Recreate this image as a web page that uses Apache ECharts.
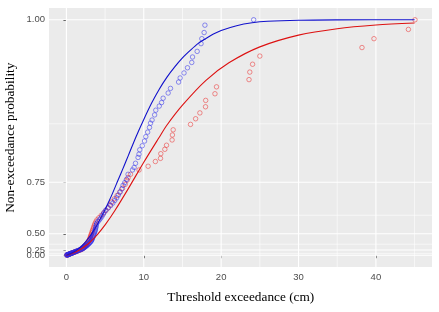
<!DOCTYPE html>
<html>
<head>
<meta charset="utf-8">
<script src="https://cdn.jsdelivr.net/npm/echarts@6/dist/echarts.min.js"></script>
<style>
html,body{margin:0;padding:0;background:#fff;}
#chart{width:439px;height:312px;}
</style>
</head>
<body>
<div id="chart"></div>
<script>
// ---- data (x = threshold exceedance in cm, p = non-exceedance probability) ----
const xTicks = [0, 10, 20, 30, 40];
const xMinorGrid = [5, 15, 25, 35, 45];
const yTicks = [0, 0.25, 0.5, 0.75, 1];
const yTickLabels = ['0.00', '0.25', '0.50', '0.75', '1.00'];
const yMinorGrid = [0.125, 0.375, 0.625, 0.875];

const bluePoints = [
[0.04,0.01],[0.08,0.02],[0.11,0.03],[0.16,0.04],[0.2,0.05],[0.25,0.06],[0.3,0.07],[0.35,0.08],[0.4,0.09],[0.46,0.1],
[0.51,0.11],[0.58,0.12],[0.64,0.13],[0.7,0.14],[0.78,0.15],[0.85,0.16],[0.92,0.17],[1.0,0.18],[1.09,0.19],[1.18,0.2],
[1.27,0.21],[1.36,0.22],[1.47,0.23],[1.57,0.24],[1.68,0.25],[1.8,0.26],[1.92,0.27],
[2.03,0.28],[2.12,0.29],[2.2,0.3],[2.28,0.31],[2.37,0.32],[2.45,0.33],[2.53,0.34],[2.62,0.35],[2.7,0.36],[2.78,0.37],
[2.87,0.38],[2.95,0.39],[3.03,0.4],[3.12,0.41],[3.2,0.42],
[3.25,0.43],[3.29,0.44],[3.34,0.45],[3.39,0.46],[3.43,0.47],[3.48,0.48],[3.53,0.49],[3.58,0.5],[3.62,0.51],[3.67,0.52],
[3.72,0.53],[3.76,0.54],[3.8,0.55],[3.84,0.56],[3.87,0.57],[3.92,0.58],
[4.08,0.59],[4.26,0.6],[4.44,0.61],[4.6,0.62],[4.75,0.63],[4.9,0.64],
[5.1,0.65],[5.4,0.66],[5.72,0.67],[6.0,0.68],
[6.25,0.69],[6.5,0.7],[6.72,0.71],[6.95,0.72],[7.15,0.73],
[7.32,0.741],[7.54,0.749],[7.76,0.758],[7.97,0.772],[8.54,0.783],[8.75,0.789],[8.93,0.799],[9.26,0.812],[9.38,0.819],
[9.48,0.828],[9.8,0.836],[10.1,0.845],[10.26,0.853],[10.5,0.861],[10.74,0.869],[10.87,0.876],[11.07,0.881],[11.4,0.889],
[11.55,0.896],[12.0,0.902],[12.3,0.907],[12.5,0.913],[13.15,0.92],[13.45,0.926],[14.5,0.934],[14.7,0.939],[15.2,0.945],
[15.65,0.951],[16.2,0.957],[16.3,0.963],[16.9,0.969],[17.4,0.977],[17.5,0.982],[17.8,0.988],[17.9,0.995],[24.2,1.0]
];

const redPoints = [
[0.05,0.012],[0.09,0.024],[0.14,0.036],[0.2,0.048],[0.25,0.06],[0.31,0.072],[0.38,0.084],[0.44,0.096],[0.52,0.108],
[0.59,0.12],[0.67,0.132],[0.75,0.144],[0.84,0.156],[0.93,0.168],[1.03,0.18],[1.14,0.192],[1.25,0.204],[1.36,0.216],
[1.48,0.228],[1.61,0.24],[1.75,0.252],[1.9,0.264],
[2.0,0.276],[2.07,0.288],[2.14,0.3],[2.21,0.312],[2.28,0.324],[2.35,0.336],[2.42,0.348],[2.5,0.36],[2.57,0.372],
[2.65,0.384],[2.72,0.396],[2.8,0.408],[2.87,0.42],[2.94,0.432],[3.0,0.444],
[3.05,0.456],[3.1,0.468],[3.15,0.48],[3.2,0.492],[3.26,0.504],[3.32,0.516],[3.38,0.528],[3.45,0.54],[3.52,0.552],
[3.6,0.564],[3.68,0.576],[3.8,0.588],[3.95,0.6],
[4.2,0.612],[4.5,0.624],[4.8,0.636],[5.1,0.648],[5.4,0.66],[5.65,0.672],
[5.85,0.684],[6.2,0.696],[6.55,0.708],[6.9,0.72],[7.25,0.732],[7.6,0.744],[7.85,0.756],
[7.97,0.763],[8.28,0.772],[9.39,0.783],[10.56,0.792],[11.5,0.803],[12.16,0.81],[12.2,0.82],[12.72,0.829],[12.94,0.837],
[13.66,0.847],[13.7,0.856],[13.8,0.865],[16.04,0.874],[16.7,0.883],[17.25,0.892],[17.98,0.901],[18.0,0.91],[19.2,0.919],
[19.4,0.928],[23.6,0.937],[23.7,0.946],[24.06,0.955],[25.0,0.964],[38.2,0.973],[39.75,0.982],[44.2,0.991],[45.05,1.0]
];

const blueCurveX = [0,0.5,1,1.5,2,2.5,3,3.5,4,4.5,5,5.5,6,6.5,7,7.5,8,9,10,11,12,13,14,15,16,17,18,19,20,22,24,26,30,35,45];
const blueCurveP = [0,0.102,0.193,0.275,0.348,0.413,0.472,0.525,0.572,0.614,0.652,0.687,0.718,0.747,0.772,0.795,0.816,0.853,0.882,0.906,0.925,0.94,0.952,0.962,0.97,0.977,0.982,0.9865,0.99,0.9945,0.9972,0.9986,0.9996,0.9999,1];

const redCurveX = [0,0.5,1,1.5,2,3,4,5,6.25,8,10,12,13,15,18,21,25,30,35,40,45];
const redCurveP = [0,0.083,0.16,0.228,0.292,0.401,0.4925,0.5686,0.647,0.731,0.8014,0.852,0.873,0.9033,0.9358,0.9566,0.9737,0.9855,0.9917,0.9951,0.997];

// ---- y scale transform (compresses low probabilities, as in the reference) ----
const A = 4.6;
const gT = p => (Math.exp(A * p) - 1) / (Math.exp(A) - 1);

const X_MIN = -2.25, X_MAX = 47.25, Y_MIN = -0.05, Y_MAX = 1.05;

const tp = arr => arr.map(d => [d[0], gT(d[1])]);
const curve = (xs, ps) => xs.map((x, i) => [x, gT(ps[i])]);

const gridSeries = [];
function addGrid(pts, width) {
  gridSeries.push({type: 'line', z: 1, silent: true, showSymbol: false, symbol: 'none',
    data: pts, lineStyle: {color: '#FFFFFF', width: width}, emphasis: {disabled: true}});
}
xMinorGrid.forEach(x => addGrid([[x, Y_MIN], [x, Y_MAX]], 0.6));
yMinorGrid.forEach(p => addGrid([[X_MIN, gT(p)], [X_MAX, gT(p)]], 0.6));
xTicks.forEach(x => addGrid([[x, Y_MIN], [x, Y_MAX]], 1.1));
yTicks.forEach(p => addGrid([[X_MIN, gT(p)], [X_MAX, gT(p)]], 1.1));

const yTickT = yTicks.map(gT);
const labelFmt = v => {
  for (let i = 0; i < yTickT.length; i++) if (Math.abs(yTickT[i] - v) < 1e-6) return yTickLabels[i];
  return '';
};
const yLabelStyle = {margin: 4, color: '#4D4D4D', fontSize: 9.5, fontFamily: 'Liberation Sans', hideOverlap: false, formatter: labelFmt};

const chart = echarts.init(document.getElementById('chart'), null, {renderer: 'canvas'});
chart.setOption({
  animation: false,
  grid: {left: 49, right: 7, top: 8, bottom: 45, show: true, backgroundColor: '#EBEBEB', borderWidth: 0},
  xAxis: {
    type: 'value', min: X_MIN, max: X_MAX,
    axisLine: {show: false},
    splitLine: {show: false},
    axisTick: {show: true, customValues: xTicks, length: 3, lineStyle: {color: '#333333', width: 1}},
    axisLabel: {customValues: xTicks, margin: 5, color: '#4D4D4D', fontSize: 9.5, fontFamily: 'Liberation Sans',
      hideOverlap: false, formatter: v => String(v)}
  },
  yAxis: [
    {
      type: 'value', min: Y_MIN, max: Y_MAX, position: 'left',
      axisLine: {show: false}, splitLine: {show: false},
      axisTick: {show: true, customValues: yTickT, length: 3, lineStyle: {color: '#333333', width: 1}},
      axisLabel: Object.assign({customValues: yTickT.slice(0, 1)}, yLabelStyle)
    },
    {
      type: 'value', min: Y_MIN, max: Y_MAX, position: 'left', offset: 0,
      axisLine: {show: false}, splitLine: {show: false},
      axisTick: {show: false},
      axisLabel: Object.assign({customValues: yTickT.slice(1)}, yLabelStyle)
    }
  ],
  graphic: [
    {type: 'text', x: 240.8, y: 297.5, style: {text: 'Threshold exceedance (cm)', fill: '#000', font: '13.3px "Liberation Serif"', textAlign: 'center', textVerticalAlign: 'middle'}},
    {type: 'text', x: 11, y: 137.7, rotation: Math.PI / 2, style: {text: 'Non-exceedance probability', fill: '#000', font: '13.3px "Liberation Serif"', textAlign: 'center', textVerticalAlign: 'middle'}}
  ],
  series: gridSeries.concat([
    {type: 'scatter', z: 3, symbol: 'circle', symbolSize: 4.5, data: tp(redPoints),
      itemStyle: {color: 'rgba(0,0,0,0)', borderColor: 'rgba(235,40,40,0.8)', borderWidth: 0.8}},
    {type: 'scatter', z: 3, symbol: 'circle', symbolSize: 4.5, data: tp(bluePoints),
      itemStyle: {color: 'rgba(0,0,0,0)', borderColor: 'rgba(40,40,235,0.8)', borderWidth: 0.8}},
    {type: 'line', z: 4, showSymbol: false, smooth: 0.3, data: curve(redCurveX, redCurveP),
      lineStyle: {color: '#DD1111', width: 1.1}},
    {type: 'line', z: 4, showSymbol: false, smooth: 0.3, data: curve(blueCurveX, blueCurveP),
      lineStyle: {color: '#1111CC', width: 1.1}}
  ])
});
</script>
</body>
</html>
